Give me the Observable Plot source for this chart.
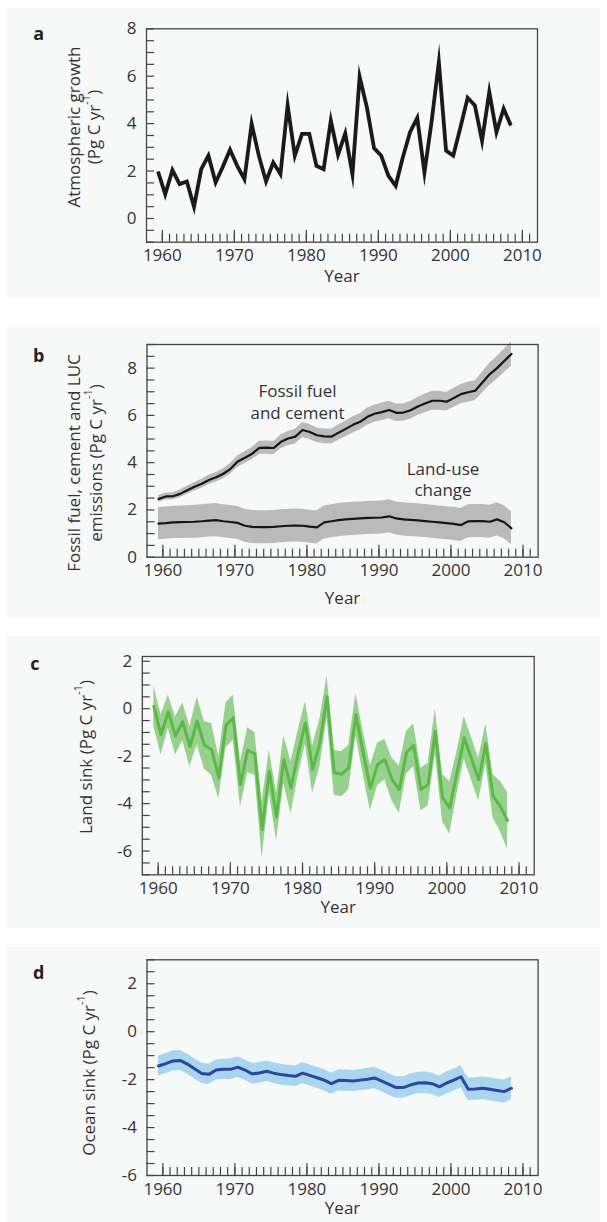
<!DOCTYPE html>
<html><head><meta charset="utf-8">
<script src="https://cdn.jsdelivr.net/npm/d3@7"></script>
<script src="https://cdn.jsdelivr.net/npm/@observablehq/plot@0.6"></script>
<style>
body{margin:0;background:#fff;}
#fig{position:relative;width:607px;height:1222px;overflow:hidden;font-family:"Open Sans",sans-serif;}
.box{position:absolute;left:7px;width:593px;background:#f7f9f9;}
.panel{position:absolute;left:0;}
</style></head><body><div id="fig"></div>
<script>
// ---- data ----
const years = [1959,1960,1961,1962,1963,1964,1965,1966,1967,1968,1969,1970,1971,1972,1973,1974,1975,1976,1977,1978,1979,1980,1981,1982,1983,1984,1985,1986,1987,1988,1989,1990,1991,1992,1993,1994,1995,1996,1997,1998,1999,2000,2001,2002,2003,2004,2005,2006,2007,2008];
const atmosphericGrowth = [1.98,1.02,2.04,1.45,1.56,0.49,2.08,2.65,1.52,2.18,2.9,2.22,1.66,3.99,2.65,1.56,2.36,1.87,4.77,2.65,3.57,3.57,2.22,2.08,4.13,2.69,3.59,1.87,5.97,4.7,2.97,2.65,1.8,1.38,2.58,3.64,4.24,1.94,4.1,6.6,2.86,2.65,3.85,5.09,4.77,3.28,5.33,3.64,4.63,3.92];
const fossilFuel = [2.46,2.57,2.58,2.68,2.83,2.98,3.11,3.27,3.38,3.53,3.74,4.05,4.21,4.38,4.63,4.64,4.62,4.88,5.02,5.1,5.38,5.3,5.16,5.11,5.1,5.27,5.43,5.6,5.73,5.94,6.07,6.14,6.23,6.11,6.12,6.22,6.38,6.5,6.62,6.62,6.58,6.74,6.9,6.98,7.05,7.4,7.75,8.0,8.3,8.6];
const fossilFuelErr = [0.15,0.15,0.15,0.16,0.17,0.18,0.19,0.2,0.2,0.21,0.22,0.24,0.25,0.26,0.28,0.28,0.28,0.29,0.3,0.31,0.32,0.32,0.31,0.31,0.31,0.32,0.33,0.34,0.34,0.36,0.36,0.37,0.37,0.37,0.37,0.37,0.38,0.39,0.4,0.4,0.39,0.4,0.41,0.42,0.42,0.44,0.47,0.48,0.5,0.52];
const landUseChange = [1.42,1.44,1.47,1.48,1.49,1.5,1.52,1.55,1.57,1.52,1.49,1.45,1.33,1.28,1.27,1.27,1.28,1.31,1.33,1.34,1.33,1.29,1.26,1.47,1.52,1.57,1.6,1.62,1.64,1.66,1.67,1.68,1.73,1.64,1.6,1.58,1.56,1.53,1.5,1.47,1.44,1.41,1.36,1.52,1.53,1.53,1.5,1.6,1.48,1.22];
const landUseChangeErr = [0.68,0.68,0.68,0.69,0.69,0.7,0.7,0.7,0.7,0.7,0.7,0.7,0.7,0.7,0.7,0.7,0.7,0.7,0.7,0.7,0.7,0.7,0.7,0.7,0.7,0.7,0.7,0.7,0.7,0.7,0.7,0.7,0.7,0.7,0.7,0.7,0.7,0.7,0.7,0.7,0.7,0.7,0.7,0.7,0.7,0.7,0.7,0.7,0.7,0.7];
const landSink = [0.1,-1.1,-0.13,-1.15,-0.55,-1.6,-0.52,-1.54,-1.72,-2.9,-0.7,-0.38,-3.2,-1.75,-1.9,-5.1,-2.65,-4.55,-2.14,-3.34,-1.86,-0.6,-2.56,-1.44,0.5,-2.7,-2.76,-2.49,-0.25,-1.85,-3.35,-2.35,-2.14,-2.99,-3.41,-1.86,-1.54,-3.41,-3.2,-0.95,-3.76,-4.18,-2.7,-1.23,-2.1,-2.99,-1.48,-3.69,-4.11,-4.72];
const landSinkErr = [0.85,0.85,0.7,0.8,0.8,0.85,1.0,1.0,1.1,0.9,0.95,0.95,0.95,0.95,0.9,1.2,0.9,1.0,1.0,1.1,0.95,0.9,1.0,1.0,0.9,0.95,0.95,0.95,0.9,0.9,0.95,0.9,0.85,0.9,1.0,0.9,0.9,0.9,0.9,0.95,1.0,1.1,0.9,0.9,0.9,0.9,0.85,0.92,1.05,1.2];
const oceanSink = [-1.43,-1.33,-1.22,-1.2,-1.35,-1.55,-1.74,-1.78,-1.6,-1.57,-1.57,-1.48,-1.6,-1.76,-1.72,-1.65,-1.73,-1.79,-1.83,-1.86,-1.73,-1.82,-1.92,-2.02,-2.17,-2.03,-2.04,-2.06,-2.02,-1.98,-1.93,-2.06,-2.2,-2.33,-2.33,-2.22,-2.14,-2.13,-2.17,-2.3,-2.14,-2.02,-1.88,-2.4,-2.39,-2.36,-2.4,-2.45,-2.5,-2.36];
const oceanSinkErr = [0.42,0.42,0.42,0.42,0.42,0.42,0.42,0.42,0.42,0.42,0.43,0.43,0.43,0.43,0.43,0.43,0.43,0.43,0.43,0.43,0.44,0.44,0.44,0.44,0.44,0.44,0.44,0.44,0.44,0.44,0.45,0.45,0.45,0.45,0.45,0.45,0.45,0.45,0.45,0.45,0.46,0.46,0.46,0.47,0.47,0.47,0.48,0.48,0.48,0.48];
const decadeTicks = [1960,1970,1980,1990,2000,2010];
const yearTicks = d3.range(1960, 2012);
const annotationText = ["Fossil fuel\nand cement", "Land-use\nchange"];
const annotationYear = [1978.7, 1998.9];
const annotationValue = [6.6, 3.33];

// ---- helpers ----
const yearOffset = 0.4; // annual values drawn near mid-year
const xDomain = [1957.8, 2012.1];
const table = (vals, errs) => years.map((year, i) => ({year, value: vals[i], err: errs ? errs[i] : 0}));
const X = d => d.year + yearOffset;

const fig = document.getElementById("fig");

function panel(cfg) {
  const box = document.createElement("div");
  box.className = "box";
  box.style.top = cfg.top + "px";
  box.style.height = cfg.height + "px";
  fig.appendChild(box);

  const svg = Plot.plot({
    width: 607, height: cfg.height,
    marginLeft: cfg.ml, marginRight: cfg.mr, marginTop: cfg.mt, marginBottom: cfg.mb,
    style: {background: "transparent", fontFamily: "'Open Sans', sans-serif", fontSize: "17px", color: "#333", overflow: "visible"},
    x: {domain: xDomain},
    y: {domain: cfg.yDomain},
    marks: [
      ...cfg.marks,
      Plot.frame({stroke: "#444", strokeWidth: 1.3}),
      Plot.axisX({ticks: decadeTicks, tickSize: 0, tickPadding: 7, tickFormat: d => String(d), label: null, fill: "#333"}),
      Plot.axisX({ticks: decadeTicks, tickSize: 12, dy: -12, tickFormat: () => "", label: null, stroke: "#444", strokeWidth: 1.2}),
      Plot.axisX({ticks: yearTicks, tickSize: 8, dy: -8, tickFormat: () => "", label: null, stroke: "#444", strokeWidth: 1.2}),
      Plot.axisY({ticks: cfg.yTicks, tickSize: 0, tickPadding: 10, tickFormat: d => String(d), label: null, fill: "#333"}),
      Plot.axisY({ticks: cfg.yMinor, tickSize: 8, dx: 8, tickFormat: () => "", label: null, stroke: "#444", strokeWidth: 1.2}),
      Plot.text(["Year"], {frameAnchor: "bottom", dy: cfg.yearDy, fontSize: 17, fill: "#333"})
    ]
  });
  svg.classList.add("panel");
  svg.style.top = cfg.top + "px";
  fig.appendChild(svg);

  const s = d3.select(svg);
  s.append("text").attr("x", cfg.letter[1]).attr("y", cfg.letter[2])
    .attr("text-anchor", "middle").attr("dominant-baseline", "central")
    .attr("font-weight", 700).attr("font-size", 18).attr("fill", "#222")
    .attr("font-family", "'Open Sans', sans-serif").text(cfg.letter[0]);
  for (const t of cfg.titles) {
    const el = s.append("text")
      .attr("transform", `translate(${t.x},${t.y}) rotate(-90)`)
      .attr("text-anchor", "middle").attr("dominant-baseline", "central")
      .attr("font-size", 17).attr("fill", "#333").attr("font-family", "'Open Sans', sans-serif");
    const parts = t.text.split("^");
    if (parts.length === 1) { el.text(t.text); }
    else {
      el.append("tspan").text(parts[0]);
      const m = parts[1].match(/^(-?\d+)(.*)$/);
      el.append("tspan").attr("baseline-shift", "super").attr("font-size", 11).text(m[1]);
      el.append("tspan").text(m[2]);
    }
  }
}

// Panel a
panel({
  top: 8, height: 290, ml: 146, mr: 70, mt: 20.3, mb: 56.3,
  yDomain: [-1, 8], yTicks: [0, 2, 4, 6, 8], yMinor: d3.range(-1, 8.001, 0.5), yearDy: 40,
  letter: ["a", 38.8, 25.3],
  titles: [{x: 73.6, y: 119, text: "Atmospheric growth"}, {x: 93, y: 119, text: "(Pg C yr^-1)"}],
  marks: [
    Plot.line(table(atmosphericGrowth), {x: X, y: "value", stroke: "#1a1a1a", strokeWidth: 3.8, strokeLinejoin: "miter", strokeMiterlimit: 10, strokeLinecap: "butt"})
  ]
});

// Panel b
const ff = table(fossilFuel, fossilFuelErr);
const luc = table(landUseChange, landUseChangeErr);
panel({
  top: 327, height: 291, ml: 146.5, mr: 69.4, mt: 17, mb: 61.3,
  yDomain: [0, 9], yTicks: [0, 2, 4, 6, 8], yMinor: d3.range(0, 9.001, 0.5), yearDy: 46.6,
  letter: ["b", 38.8, 28],
  titles: [{x: 73.6, y: 136, text: "Fossil fuel, cement and LUC"}, {x: 95, y: 136, text: "emissions (Pg C yr^-1)"}],
  marks: [
    Plot.areaY(luc, {x: X, y1: d => d.value - d.err, y2: d => d.value + d.err, fill: "#bababa"}),
    Plot.areaY(ff, {x: X, y1: d => d.value - d.err, y2: d => d.value + d.err, fill: "#bababa"}),
    Plot.line(luc, {x: X, y: "value", stroke: "#151515", strokeWidth: 2.2}),
    Plot.line(ff, {x: X, y: "value", stroke: "#151515", strokeWidth: 2.2}),
    Plot.text(annotationText, {x: (d, i) => annotationYear[i], y: (d, i) => annotationValue[i], text: d => d, fontSize: 17, lineHeight: 1.28, fill: "#333"})
  ]
});

// Panel c
const land = table(landSink, landSinkErr);
panel({
  top: 636, height: 292, ml: 141.8, mr: 73.3, mt: 20, mb: 53.7,
  yDomain: [-7, 2.2], yTicks: [-6, -4, -2, 0, 2], yMinor: d3.range(-7, 2.001, 0.5), yearDy: 38.4,
  letter: ["c", 34.9, 27.3],
  titles: [{x: 85, y: 121, text: "Land sink (Pg C yr^-1)"}],
  marks: [
    Plot.areaY(land, {x: X, y1: d => d.value - d.err, y2: d => d.value + d.err, fill: "#97d08f"}),
    Plot.line(land, {x: X, y: "value", stroke: "#5cb947", strokeWidth: 3})
  ]
});

// Panel d
const ocean = table(oceanSink, oceanSinkErr);
panel({
  top: 947, height: 275, ml: 146.5, mr: 69.4, mt: 12.3, mb: 47,
  yDomain: [-6, 3], yTicks: [-6, -4, -2, 0, 2], yMinor: d3.range(-6, 3.001, 0.5), yearDy: 38.3,
  letter: ["d", 38.8, 24.7],
  titles: [{x: 88, y: 126, text: "Ocean sink (Pg C yr^-1)"}],
  marks: [
    Plot.areaY(ocean, {x: X, y1: d => d.value - d.err, y2: d => d.value + d.err, fill: "#a9d5ee"}),
    Plot.line(ocean, {x: X, y: "value", stroke: "#2d44a0", strokeWidth: 3})
  ]
});
</script></body></html>
